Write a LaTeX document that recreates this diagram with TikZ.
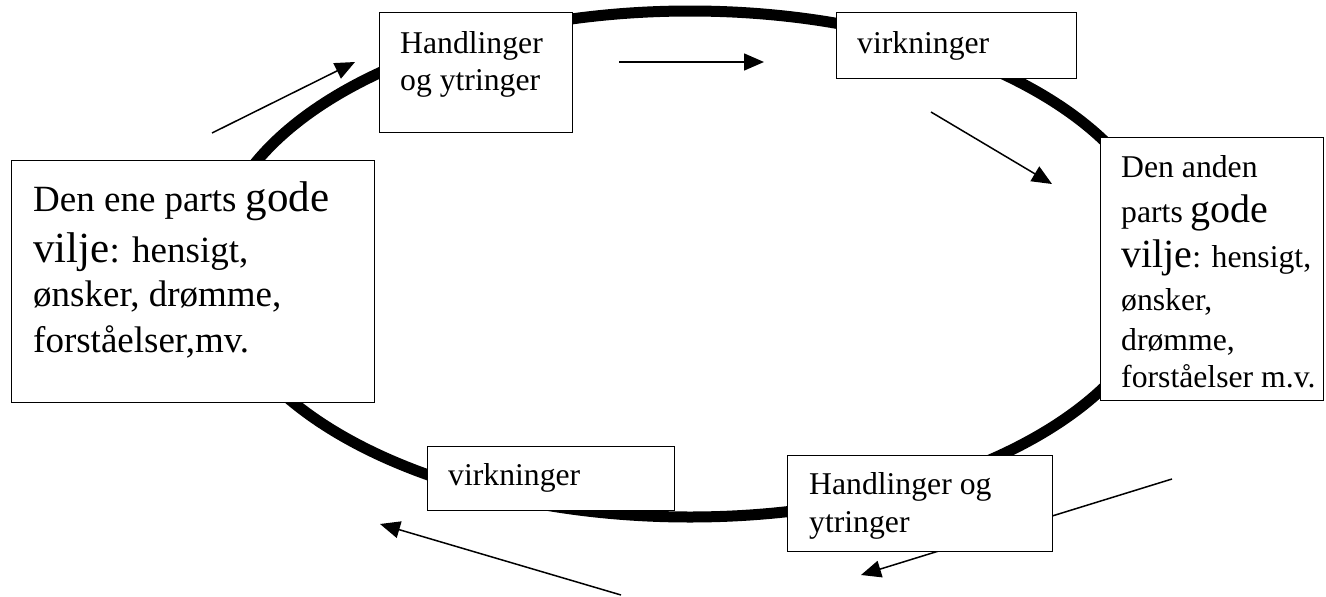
\documentclass[tikz,border=0pt]{standalone}
\usepackage{fontspec}
\setmainfont{Liberation Serif}
\usetikzlibrary{arrows.meta}
\newcommand{\sm}{\fontsize{31.7}{37}\selectfont}
\newcommand{\lgR}{\fontsize{40}{46}\selectfont}
\newcommand{\nmL}{\fontsize{37}{44}\selectfont}
\newcommand{\lgL}{\fontsize{43}{50}\selectfont}
\begin{document}
\begin{tikzpicture}[x=1pt,y=-1pt,
  box/.style={draw=black, line width=1.3pt, fill=white, anchor=north west, inner sep=0pt},
  txt/.style={anchor=base west, inner sep=0pt},
  arr/.style={line width=1.5pt, -{Triangle[length=20pt,width=17pt]}},
  ring/.style={line width=11pt}]
\useasboundingbox (0,0) rectangle (1326,597);
% ring
\coordinate (c) at (690,264);
\draw[ring] (c) ellipse [x radius=474pt, y radius=253pt];
% arrow coordinates
\coordinate (a1s) at (212,133); \coordinate (a1e) at (355,62);
\coordinate (a2s) at (619,62);  \coordinate (a2e) at (764,62);
\coordinate (a3s) at (931,112); \coordinate (a3e) at (1052,184);
\coordinate (a4s) at (1172,479); \coordinate (a4e) at (861,575);
\coordinate (a5s) at (621,595); \coordinate (a5e) at (380,524);
\draw[arr] (a1s) -- (a1e);
\draw[arr] (a2s) -- (a2e);
\draw[arr] (a3s) -- (a3e);
\draw[arr] (a4s) -- (a4e);
\draw[arr] (a5s) -- (a5e);
% boxes
\path (379,12) node[box, minimum width=193pt, minimum height=120pt] (tb1) {};
\path (836,12) node[box, minimum width=240pt, minimum height=66pt] (tb2) {};
\path (1100,137) node[box, minimum width=223pt, minimum height=263pt] (rb) {};
\path (11,160) node[box, minimum width=363pt, minimum height=242pt] (lb) {};
\path (427,446) node[box, minimum width=247pt, minimum height=64pt] (bb1) {};
\path (787,455) node[box, minimum width=265pt, minimum height=96pt] (bb2) {};
% texts
\node[txt] (tb1a) at (400,53) {\sm Handlinger};
\node[txt] (tb1b) at (400,90) {\sm og ytringer};
\node[txt] (tb2a) at (857,53) {\sm virkninger};
\node[txt] (lba) at (33,211) {\nmL Den ene parts \lgL gode};
\node[txt] (lbb) at (33,262) {\lgL vilje\nmL: hensigt,};
\node[txt] (lbc) at (33,306) {\nmL ønsker, drømme,};
\node[txt] (lbd) at (33,352) {\nmL forståelser,mv.};
\node[txt] (rba) at (1121,177) {\sm Den anden};
\node[txt] (rbb) at (1121,222) {\sm parts \lgR gode};
\node[txt] (rbc) at (1121,267) {\lgR vilje\sm: hensigt,};
\node[txt] (rbd) at (1121,310) {\sm ønsker,};
\node[txt] (rbe) at (1121,350) {\sm drømme,};
\node[txt] (rbf) at (1121,387) {\sm forståelser m.v.};
\node[txt] (bb1a) at (448,485) {\sm virkninger};
\node[txt] (bb2a) at (809,494) {\sm Handlinger og};
\node[txt] (bb2b) at (809,532) {\sm ytringer};
\end{tikzpicture}
\end{document}
